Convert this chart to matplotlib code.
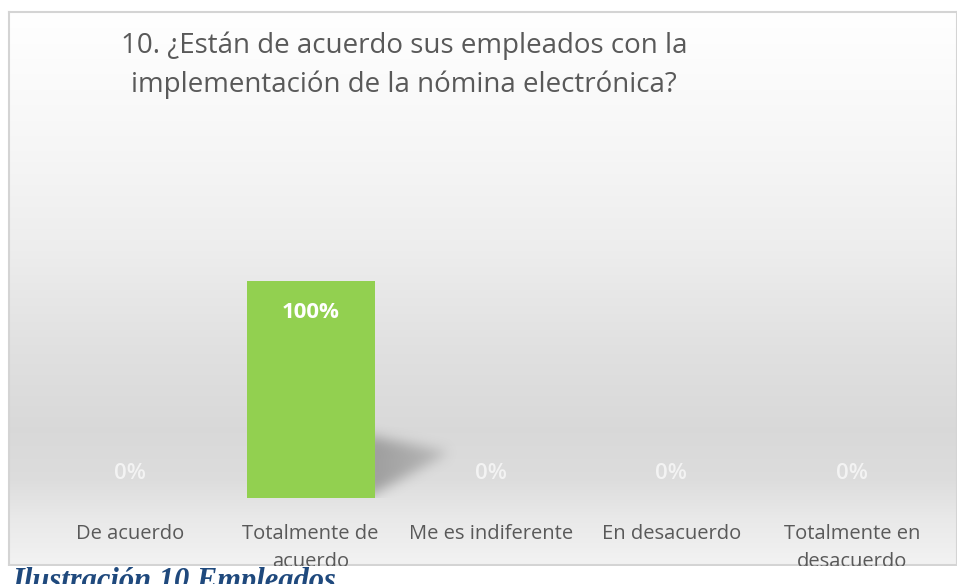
import matplotlib.pyplot as plt
import numpy as np
from matplotlib.patches import Rectangle
from matplotlib.path import Path

categorias = ["De acuerdo", "Totalmente de\nacuerdo", "Me es indiferente",
              "En desacuerdo", "Totalmente en\ndesacuerdo"]
valores = [0.0, 1.0, 0.0, 0.0, 0.0]
etiquetas = ["0%", "100%", "0%", "0%", "0%"]
titulo = "10. ¿Están de acuerdo sus empleados con la\nimplementación de la nómina electrónica?"
pie = "Ilustración 10 Empleados"

W, H = 957, 584
fig = plt.figure(figsize=(W / 100, H / 100), dpi=100)
fig.patch.set_facecolor("white")

# chart frame with vertical gradient (white on top, darkest near the base, lighter at the bottom)
fx0, fy0, fx1, fy1 = 9, 12, 957, 565
bg = fig.add_axes([fx0 / W, 1 - fy1 / H, (fx1 - fx0) / W, (fy1 - fy0) / H], zorder=-1)
py = np.linspace(fy0, fy1, 400)
g = np.interp(py, [12, 150, 250, 350, 430, 480, 520, 565],
              [1.0, 0.965, 0.93, 0.88, 0.85, 0.865, 0.915, 0.95])
grad = np.dstack([g, g, g]).reshape(-1, 1, 3)
bg.imshow(grad, aspect="auto", extent=[0, 1, 0, 1], origin="upper")
bg.set_xticks([])
bg.set_yticks([])
for s in bg.spines.values():
    s.set_color("#d4d4d4")
    s.set_linewidth(1.5)

# plot area
ax = fig.add_axes([40 / W, 1 - 498 / H, (942 - 40) / W, (498 - 238) / H])
ax.patch.set_alpha(0)
x = np.arange(len(categorias))
ancho = 0.71

# soft perspective shadow to the right of the tallest bar
ib = int(np.argmax(valores))
xr = ib + ancho / 2
tri = Path([(xr - 0.05, 0.29 * valores[ib]), (xr - 0.05, 0.0), (xr + 0.42, 0.21 * valores[ib])])
ex = [xr - 0.05, xr + 0.7, -0.05, 0.5]
gx, gy = np.meshgrid(np.linspace(ex[0], ex[1], 150), np.linspace(ex[2], ex[3], 110))
m = tri.contains_points(np.c_[gx.ravel(), gy.ravel()]).reshape(gx.shape).astype(float)
k = np.ones(11) / 11
for _ in range(3):
    m = np.apply_along_axis(lambda r: np.convolve(r, k, mode="same"), 1, m)
    m = np.apply_along_axis(lambda r: np.convolve(r, k, mode="same"), 0, m)
fall = np.clip(1 - (gx - xr) / 0.6, 0, 1) ** 0.6
sh = np.zeros(gx.shape + (4,))
sh[..., :3] = 0.5
sh[..., 3] = np.clip(m * fall * 0.65, 0, 1)
ax.imshow(sh, extent=ex, origin="lower", aspect="auto", zorder=1, interpolation="bilinear")

ax.bar(x, valores, width=ancho, color="#92D050", zorder=2)
for i, (v, lab) in enumerate(zip(valores, etiquetas)):
    if v > 0:
        ax.text(i, v - 0.143, lab, ha="center", va="center", color="white",
                fontsize=16, fontweight="bold", family="Open Sans", zorder=3)
    else:
        ax.text(i, 0.115, lab, ha="center", va="center", color="#f3f3f3",
                fontsize=16, fontweight="semibold", family="Open Sans", zorder=3)

ax.set_xlim(-0.5, 4.5)
ax.set_ylim(0, 1.2)
ax.set_yticks([])
ax.set_xticks(x)
ax.set_xticklabels(categorias, fontsize=14.5, color="#595959", family="Open Sans",
                   linespacing=1.5)
ax.tick_params(axis="x", length=0, pad=19)
for s in ax.spines.values():
    s.set_visible(False)

fig.text(404 / W, 1 - 31 / H, titulo, ha="center", va="top", fontsize=20,
         color="#595959", family="Open Sans", linespacing=1.5, multialignment="center")

# white strip under the frame (clips second line of labels), then caption
fig.patches.append(Rectangle((0, 0), 1, 1 - 566 / H, transform=fig.transFigure,
                             facecolor="white", edgecolor="none", zorder=5))
fig.text(12 / W, 1 - 567 / H, pie, ha="left", va="top", fontsize=22,
         color="#1F497D", family="Liberation Serif", style="italic",
         fontweight="bold", zorder=6)

fig.savefig("out.png", dpi=100)
